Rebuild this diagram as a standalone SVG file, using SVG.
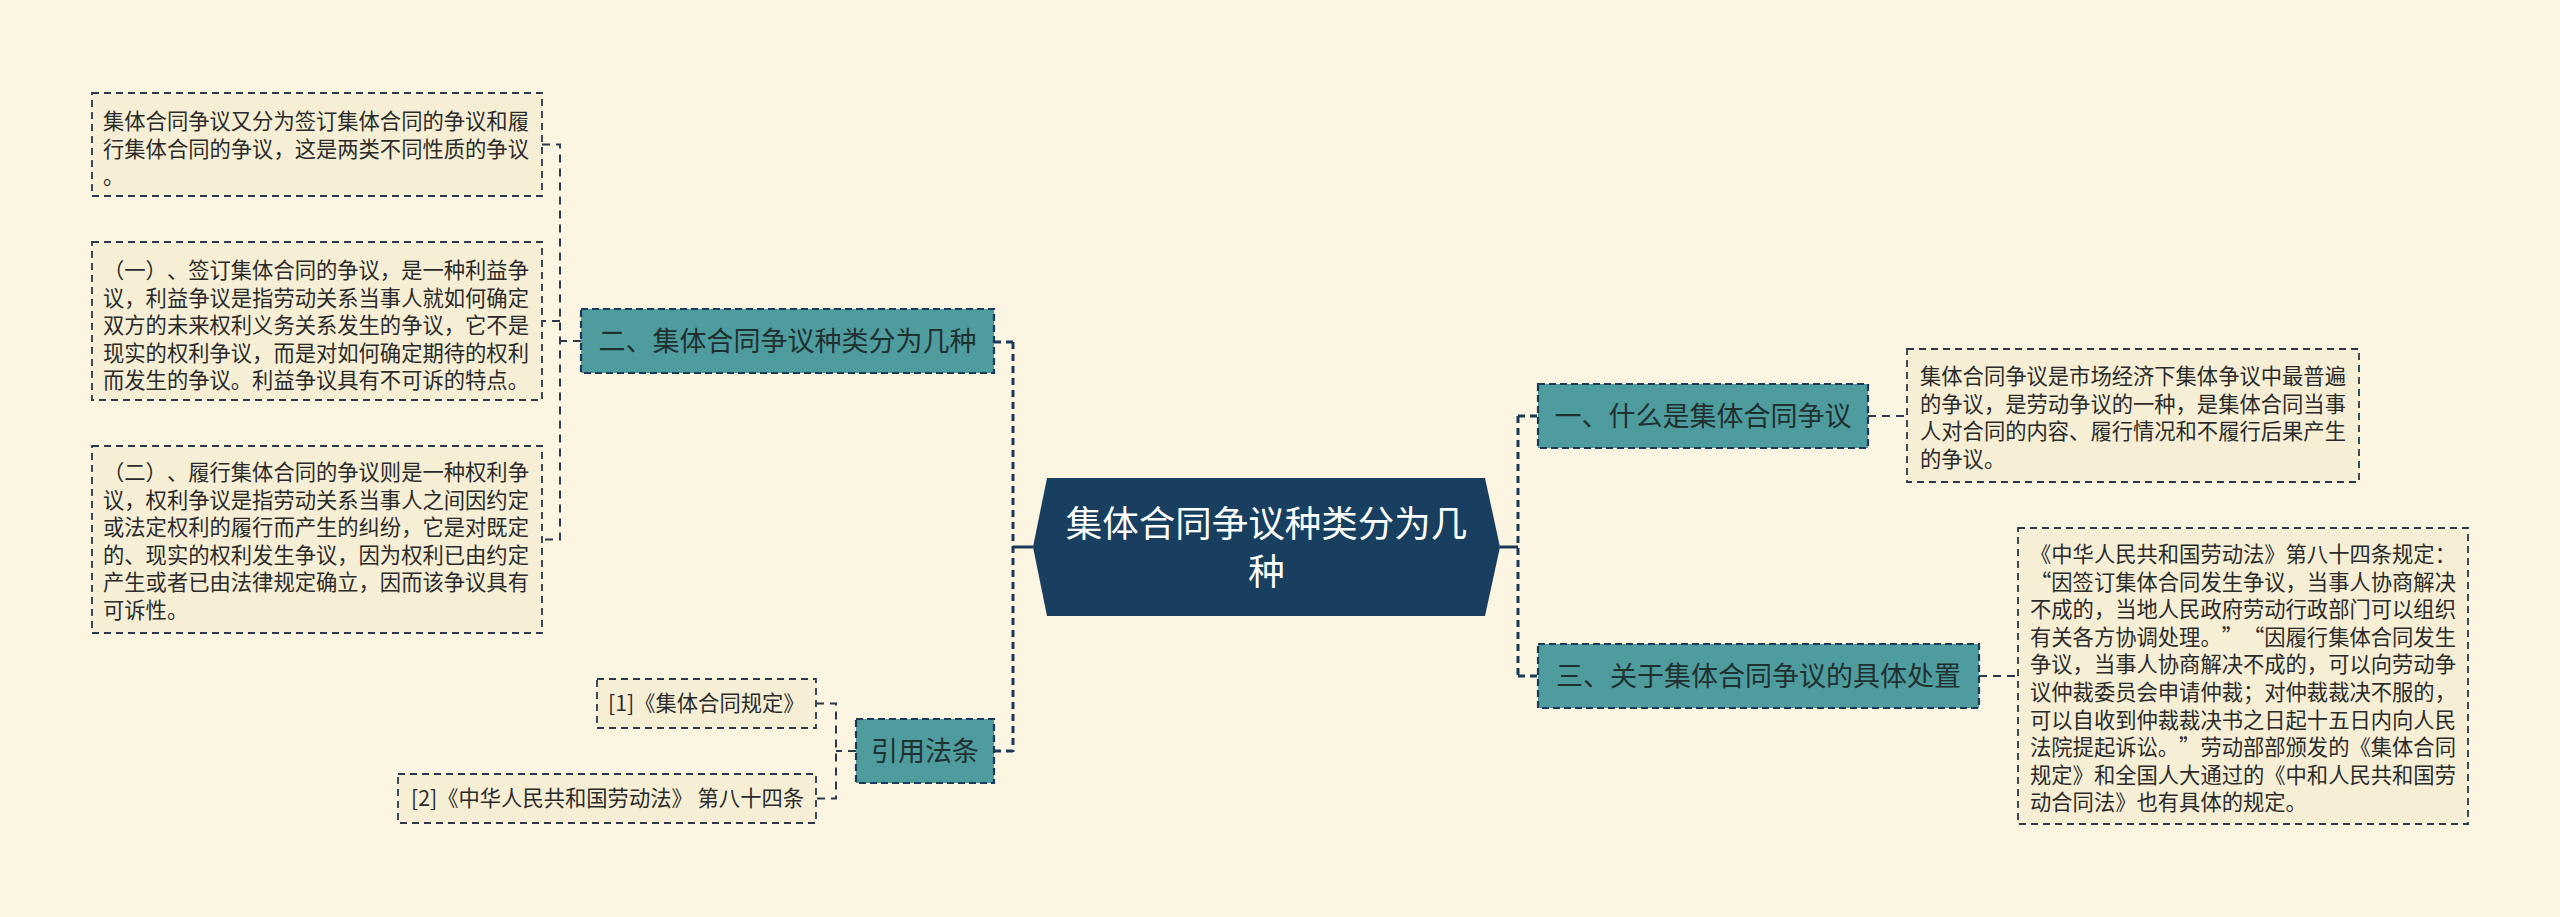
<svg xmlns="http://www.w3.org/2000/svg" width="2560" height="917" viewBox="0 0 2560 917">
<style>
text{text-spacing-trim:space-all;font-kerning:none}
.bg{fill:#FBF5E2}
.leaf{fill:#F6EFD5;stroke:#2A3A4A;stroke-width:1.8;stroke-dasharray:7 5}
.main{fill:#4F9C9F;stroke:#1B3A57;stroke-width:2.2;stroke-dasharray:7 4}
.lt{font-family:"Noto Sans CJK SC","Noto Sans",sans-serif;font-size:21.3px;fill:#2B2B2B}
.mt{font-family:"Noto Sans CJK SC","Noto Sans",sans-serif;font-size:27px;fill:#1E3030;text-anchor:middle}
.ct{font-family:"Noto Sans CJK SC","Noto Sans",sans-serif;font-size:36.5px;fill:#FFFFFF;text-anchor:middle}
.c1{fill:none;stroke:#1B3A57;stroke-width:3;stroke-dasharray:7 5}
.c0{fill:none;stroke:#1B3A57;stroke-width:3}
.c2{fill:none;stroke:#2A3A4A;stroke-width:2;stroke-dasharray:8 6}
</style>
<rect class="bg" x="0" y="0" width="2560" height="917"/>
<g id="connectors">
<path class="c0" d="M1033,547 H1013"/>
<path class="c1" d="M1013,342 V752"/>
<path class="c1" d="M994,342 H1013 M994,751 H1013"/>
<path class="c0" d="M1500,547 H1518"/>
<path class="c1" d="M1518,416 V676"/>
<path class="c1" d="M1518,416 H1538 M1518,676 H1538"/>
<path class="c2" d="M581,341 H560 M542,144.5 H560 V539.5 H542 M560,321 H542"/>
<path class="c2" d="M856,751 H836 M816,703.5 H836 V798.5 H816"/>
<path class="c2" d="M1868,416 H1907"/>
<path class="c2" d="M1979,676 H2018"/>
</g>
<g id="center">
<polygon points="1047,478 1485,478 1500,547 1485,616 1047,616 1033,547" fill="#183F60"/>
<text class="ct" x="1266.5" y="537">集体合同争议种类分为几</text>
<text class="ct" x="1266.5" y="585">种</text>
</g>
<g id="node-er">
<rect class="main" x="581" y="309" width="413" height="64"/>
<text class="mt" x="787.5" y="351">二、集体合同争议种类分为几种</text>
</g>
<g id="node-yinyong">
<rect class="main" x="856" y="719" width="138" height="64"/>
<text class="mt" x="925" y="761">引用法条</text>
</g>
<g id="node-yi">
<rect class="main" x="1538" y="384" width="330" height="64"/>
<text class="mt" x="1703" y="426">一、什么是集体合同争议</text>
</g>
<g id="node-san">
<rect class="main" x="1538" y="644" width="441" height="64"/>
<text class="mt" x="1758.5" y="686">三、关于集体合同争议的具体处置</text>
</g>
<g id="leaf-er-1">
<rect class="leaf" x="92" y="93" width="450" height="103"/>
<text class="lt" x="103"><tspan x="103" y="129">集体合同争议又分为签订集体合同的争议和履</tspan><tspan x="103" y="156.6">行集体合同的争议，这是两类不同性质的争议</tspan><tspan x="103" y="184.2">。</tspan></text>
</g>
<g id="leaf-er-2">
<rect class="leaf" x="92" y="242" width="450" height="158"/>
<text class="lt"><tspan x="103" y="278">（一）、签订集体合同的争议，是一种利益争</tspan><tspan x="103" y="305.6">议，利益争议是指劳动关系当事人就如何确定</tspan><tspan x="103" y="333.2">双方的未来权利义务关系发生的争议，它不是</tspan><tspan x="103" y="360.8">现实的权利争议，而是对如何确定期待的权利</tspan><tspan x="103" y="388.4">而发生的争议。利益争议具有不可诉的特点。</tspan></text>
</g>
<g id="leaf-er-3">
<rect class="leaf" x="92" y="446" width="450" height="187"/>
<text class="lt"><tspan x="103" y="480">（二）、履行集体合同的争议则是一种权利争</tspan><tspan x="103" y="507.6">议，权利争议是指劳动关系当事人之间因约定</tspan><tspan x="103" y="535.2">或法定权利的履行而产生的纠纷，它是对既定</tspan><tspan x="103" y="562.8">的、现实的权利发生争议，因为权利已由约定</tspan><tspan x="103" y="590.4">产生或者已由法律规定确立，因而该争议具有</tspan><tspan x="103" y="618">可诉性。</tspan></text>
</g>
<g id="leaf-ref-1">
<rect class="leaf" x="597" y="679" width="219" height="49"/>
<text class="lt" x="608" y="711">[1]《集体合同规定》</text>
</g>
<g id="leaf-ref-2">
<rect class="leaf" x="398" y="774" width="418" height="49"/>
<text class="lt" x="411" y="806">[2]《中华人民共和国劳动法》 第八十四条</text>
</g>
<g id="leaf-yi">
<rect class="leaf" x="1907" y="349" width="452" height="133"/>
<text class="lt"><tspan x="1920" y="384">集体合同争议是市场经济下集体争议中最普遍</tspan><tspan x="1920" y="411.6">的争议，是劳动争议的一种，是集体合同当事</tspan><tspan x="1920" y="439.2">人对合同的内容、履行情况和不履行后果产生</tspan><tspan x="1920" y="466.8">的争议。</tspan></text>
</g>
<g id="leaf-san">
<rect class="leaf" x="2018" y="528" width="450" height="296"/>
<text class="lt"><tspan x="2030" y="562">《中华人民共和国劳动法》第八十四条规定：</tspan><tspan x="2030" y="589.6">“因签订集体合同发生争议，当事人协商解决</tspan><tspan x="2030" y="617.2">不成的，当地人民政府劳动行政部门可以组织</tspan><tspan x="2030" y="644.8">有关各方协调处理。”“因履行集体合同发生</tspan><tspan x="2030" y="672.4">争议，当事人协商解决不成的，可以向劳动争</tspan><tspan x="2030" y="700">议仲裁委员会申请仲裁；对仲裁裁决不服的，</tspan><tspan x="2030" y="727.6">可以自收到仲裁裁决书之日起十五日内向人民</tspan><tspan x="2030" y="755.2">法院提起诉讼。”劳动部部颁发的《集体合同</tspan><tspan x="2030" y="782.8">规定》和全国人大通过的《中和人民共和国劳</tspan><tspan x="2030" y="810.4">动合同法》也有具体的规定。</tspan></text>
</g>
</svg>
